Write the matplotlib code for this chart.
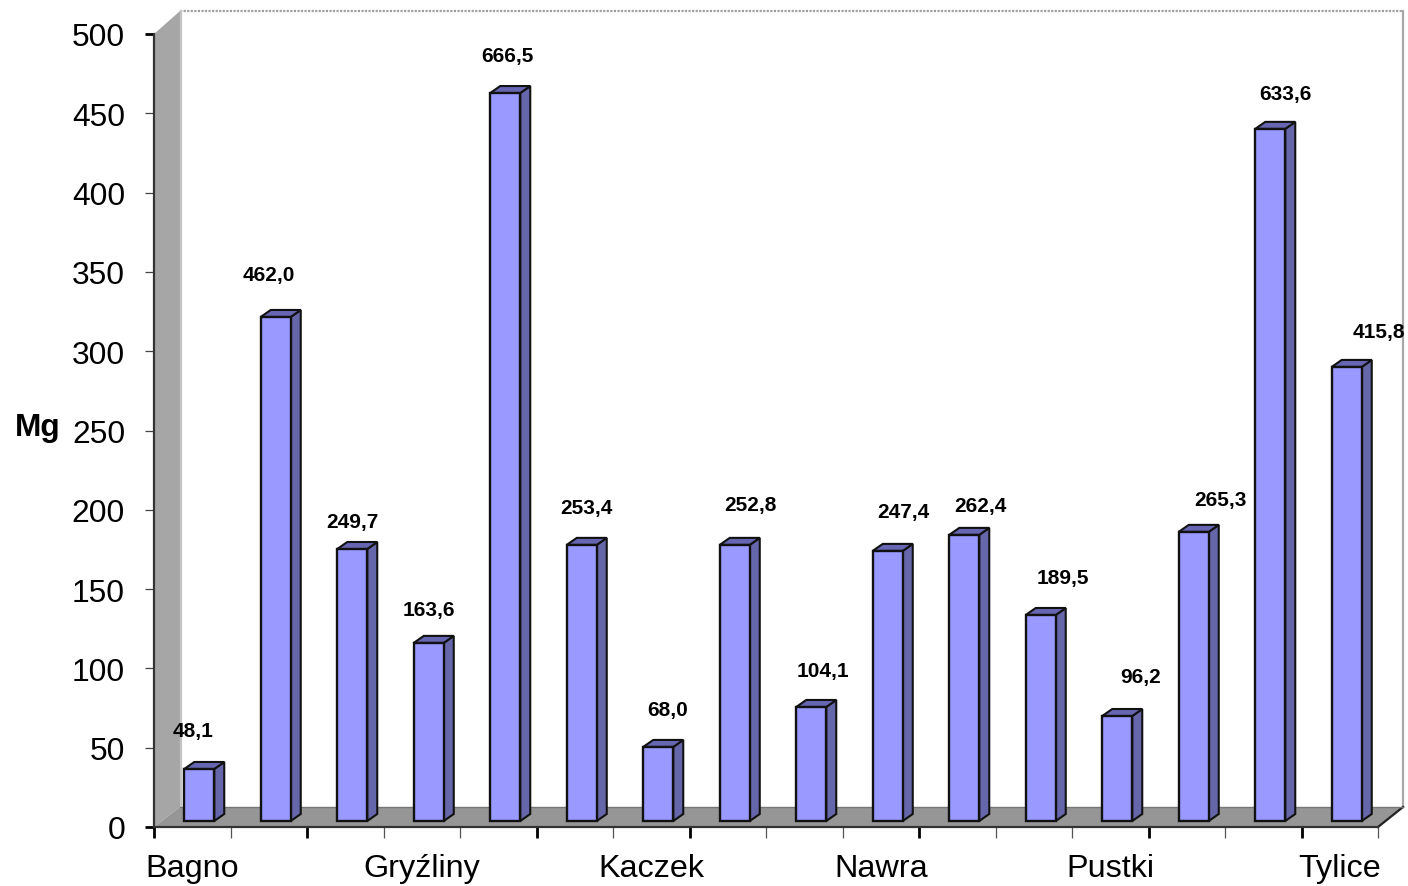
import matplotlib
matplotlib.use("Agg")
import matplotlib.pyplot as plt
from matplotlib.patches import Polygon
from matplotlib.lines import Line2D
from matplotlib.transforms import Affine2D

plt.rcParams['font.family'] = ['Liberation Sans', 'DejaVu Sans']

# Data
value_labels = ["48,1", "462,0", "249,7", "163,6", "666,5", "253,4", "68,0", "252,8",
                "104,1", "247,4", "262,4", "189,5", "96,2", "265,3", "633,6", "415,8"]
bar_heights = [32.8, 317.8, 171.5, 112.3, 459.0, 174.1, 46.7, 174.1,
               71.9, 170.3, 180.4, 129.9, 66.2, 182.3, 436.4, 286.3]
category_labels = ["Bagno", "Gryźliny", "Kaczek", "Nawra", "Pustki", "Tylice"]
category_slots = [0, 3, 6, 9, 12, 15]
major_slots = [0, 2, 5, 7, 10, 13, 15]
y_ticks = list(range(0, 501, 50))
n = len(bar_heights)

# Label nudges (px) relative to each bar's front-top centre
label_dx = [-6, -6.5, 0, 0, 2, 4.5, 9, 15.5, 12, 15.5, 16, 22.5, 23, 26.5, 15, 32.5]
label_dy = [38, 42, 28, 33, 38, 37, 37, 40, 36, 39, 29, 37, 40, 32, 35, 35]

W, H = 1408, 887
fig = plt.figure(figsize=(W / 100, H / 100), dpi=100, facecolor='white')
L, R, T, B = 154, 1378, 35, 828
ax = fig.add_axes([L / W, (H - B) / H, (R - L) / W, (B - T) / H])
ax.set_xlim(0, n)
ax.set_ylim(0, 500)
ax.patch.set_alpha(0)
for s in ('top', 'right'):
    ax.spines[s].set_visible(False)
for s in ('left', 'bottom'):
    ax.spines[s].set_color('#333333')
    ax.spines[s].set_linewidth(1.6)
    ax.spines[s].set_zorder(6)

px = Affine2D().scale(1, -1).translate(0, H)   # pixel coordinates, y down


def deco(points, **kw):
    fig.add_artist(Polygon(points, closed=True, transform=px, **kw))


def edge(xs, ys, **kw):
    fig.add_artist(Line2D(xs, ys, transform=px, **kw))


# Chart box: wall, back, floor
deco([(180, 12), (1403, 12), (1403, 808), (180, 808)], facecolor='white', edgecolor='none', zorder=-5)
deco([(154, 35), (180, 12), (180, 808), (154, 828)], facecolor='#A6A6A6', edgecolor='none', zorder=-4)
deco([(154, 828), (180, 808), (1403, 808), (1378, 828)], facecolor='#969696', edgecolor='none', zorder=-3)
edge([180, 1403], [12, 12], color='#A0A0A0', lw=1.6, ls=(0, (1, 0.6)), zorder=-2)
edge([1403, 1403], [12, 808], color='#A8A8A8', lw=1.6, zorder=-2)
edge([181, 181], [12, 808], color='#C4C4C4', lw=1.6, zorder=-2)
edge([1378, 1403], [828, 808], color='#222222', lw=1.6, zorder=-2)
edge([180, 1403], [808, 808], color='#777777', lw=1, zorder=-2)

# Bars
xscale = (R - L) / n
yscale = (B - T) / 500
depth_x = 10 / xscale
depth_y = 7 / yscale
base = 6 / yscale
width = 30 / xscale
centres = [i + 0.5 + 7 / xscale for i in range(n)]
bars = ax.bar(centres, bar_heights, width=width, bottom=base, color='#9999FF',
              edgecolor='#111111', linewidth=1.7, zorder=3, clip_on=False)
for rect, text, dx, dy in zip(bars, value_labels, label_dx, label_dy):
    x0, x1 = rect.get_x(), rect.get_x() + rect.get_width()
    y0, y1 = rect.get_y(), rect.get_y() + rect.get_height()
    ax.add_patch(Polygon([(x1, y0), (x1 + depth_x, y0 + depth_y), (x1 + depth_x, y1 + depth_y), (x1, y1)],
                         facecolor='#6666AA', edgecolor='#111111', linewidth=1.5, zorder=2, clip_on=False))
    ax.add_patch(Polygon([(x0, y1), (x0 + depth_x, y1 + depth_y), (x1 + depth_x, y1 + depth_y), (x1, y1)],
                         facecolor='#6666B3', edgecolor='#111111', linewidth=1.5, zorder=2, clip_on=False))
    ax.annotate(text, xy=((x0 + x1) / 2, y1), xytext=(dx * 0.72, dy * 0.72),
                textcoords='offset points', ha='center', va='center',
                fontsize=15, fontweight='bold', color='black', annotation_clip=False, zorder=7)

# Axes ticks
ax.set_yticks(y_ticks)
ax.tick_params(axis='y', length=6.8, width=0.9, color='#444444', labelsize=22.9, pad=14)
for t, v in zip(ax.yaxis.get_major_ticks(), y_ticks):
    if v in (0, 500):
        t.tick1line.set_markeredgewidth(2.0)
        t.tick1line.set_markeredgecolor('black')

ax.set_xticks(range(n + 1))
ax.set_xticklabels([])
ax.tick_params(axis='x', which='major', length=7.8, width=0.9, color='#555555')
for i, t in enumerate(ax.xaxis.get_major_ticks()):
    if i in major_slots:
        t.tick1line.set_markeredgewidth(2.0)
        t.tick1line.set_markeredgecolor('black')
ax.set_xticks([s + 0.5 for s in category_slots], category_labels, minor=True)
ax.tick_params(axis='x', which='minor', length=0, labelsize=23.3, pad=19)

fig.text(38 / W, 1 - 428.5 / H, "Mg", fontsize=22.8, fontweight='bold', ha='center', va='center')

fig.savefig('out.png', dpi=100)
